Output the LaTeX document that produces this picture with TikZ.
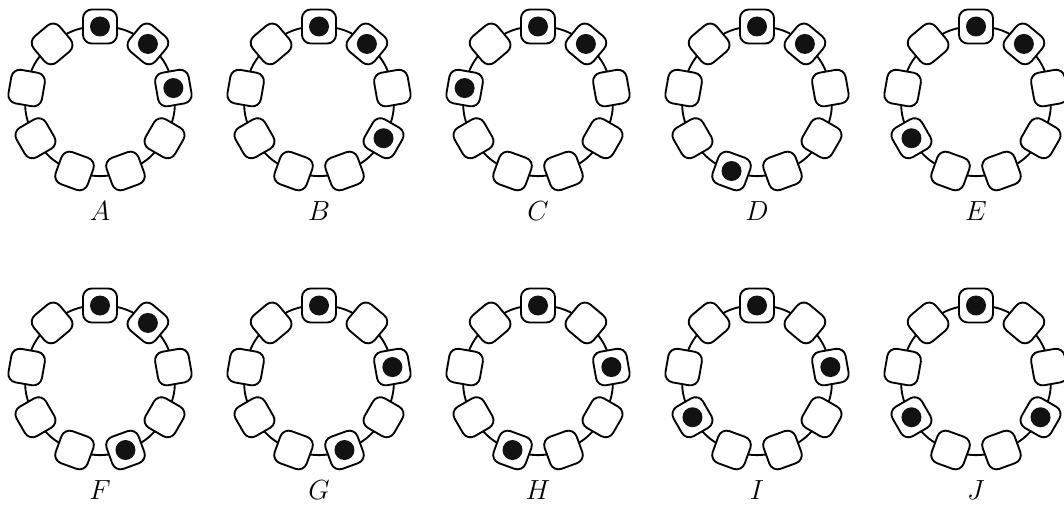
\documentclass[tikz,border=0pt]{standalone}
\usetikzlibrary{backgrounds}
\begin{document}
\begin{tikzpicture}[x=0.75pt,y=-0.75pt,
  slot/.style={rectangle, draw, line width=1.4pt, fill=white, rounded corners=6.5pt,
               minimum size=25.5pt, inner sep=0pt},
  dot/.style={circle, fill=black!93, minimum size=15pt, inner sep=0pt},
  ring/.style={line width=1.4pt},
  lab/.style={font=\fontsize{21}{25}\selectfont}]
\useasboundingbox (0,0) rectangle (1064,506);
\foreach \n/\cx/\cy/\f in {A/100/101/{0,1,2}, B/319/101/{0,1,3}, C/538/101/{0,1,7},
    D/757/101/{0,1,5}, E/976/101/{0,1,6}, F/100/380/{0,1,4}, G/319/380/{0,2,4},
    H/538/380/{0,2,5}, I/757/380/{0,2,6}, J/976/380/{0,3,6}} {
  \foreach \k in {0,...,8} {
    \pgfmathsetmacro\ang{90-40*\k}
    \node[slot, rotate=\ang-90] (\n-\k) at ({\cx+74.5*cos(\ang)},{\cy-74.5*sin(\ang)}) {};
  }
  \begin{scope}[on background layer]
    \foreach \k in {0,...,8} {
      \pgfmathtruncatemacro\nk{mod(\k+1,9)}
      \draw[ring] (\n-\k.center) to[bend left=20] (\n-\nk.center);
    }
  \end{scope}
  \foreach \p in \f {
    \node[dot] (\n-d\p) at (\n-\p) {};
  }
  \node[lab] (\n-lab) at (\cx,\cy+110) {$\n$};
}
\end{tikzpicture}
\end{document}
